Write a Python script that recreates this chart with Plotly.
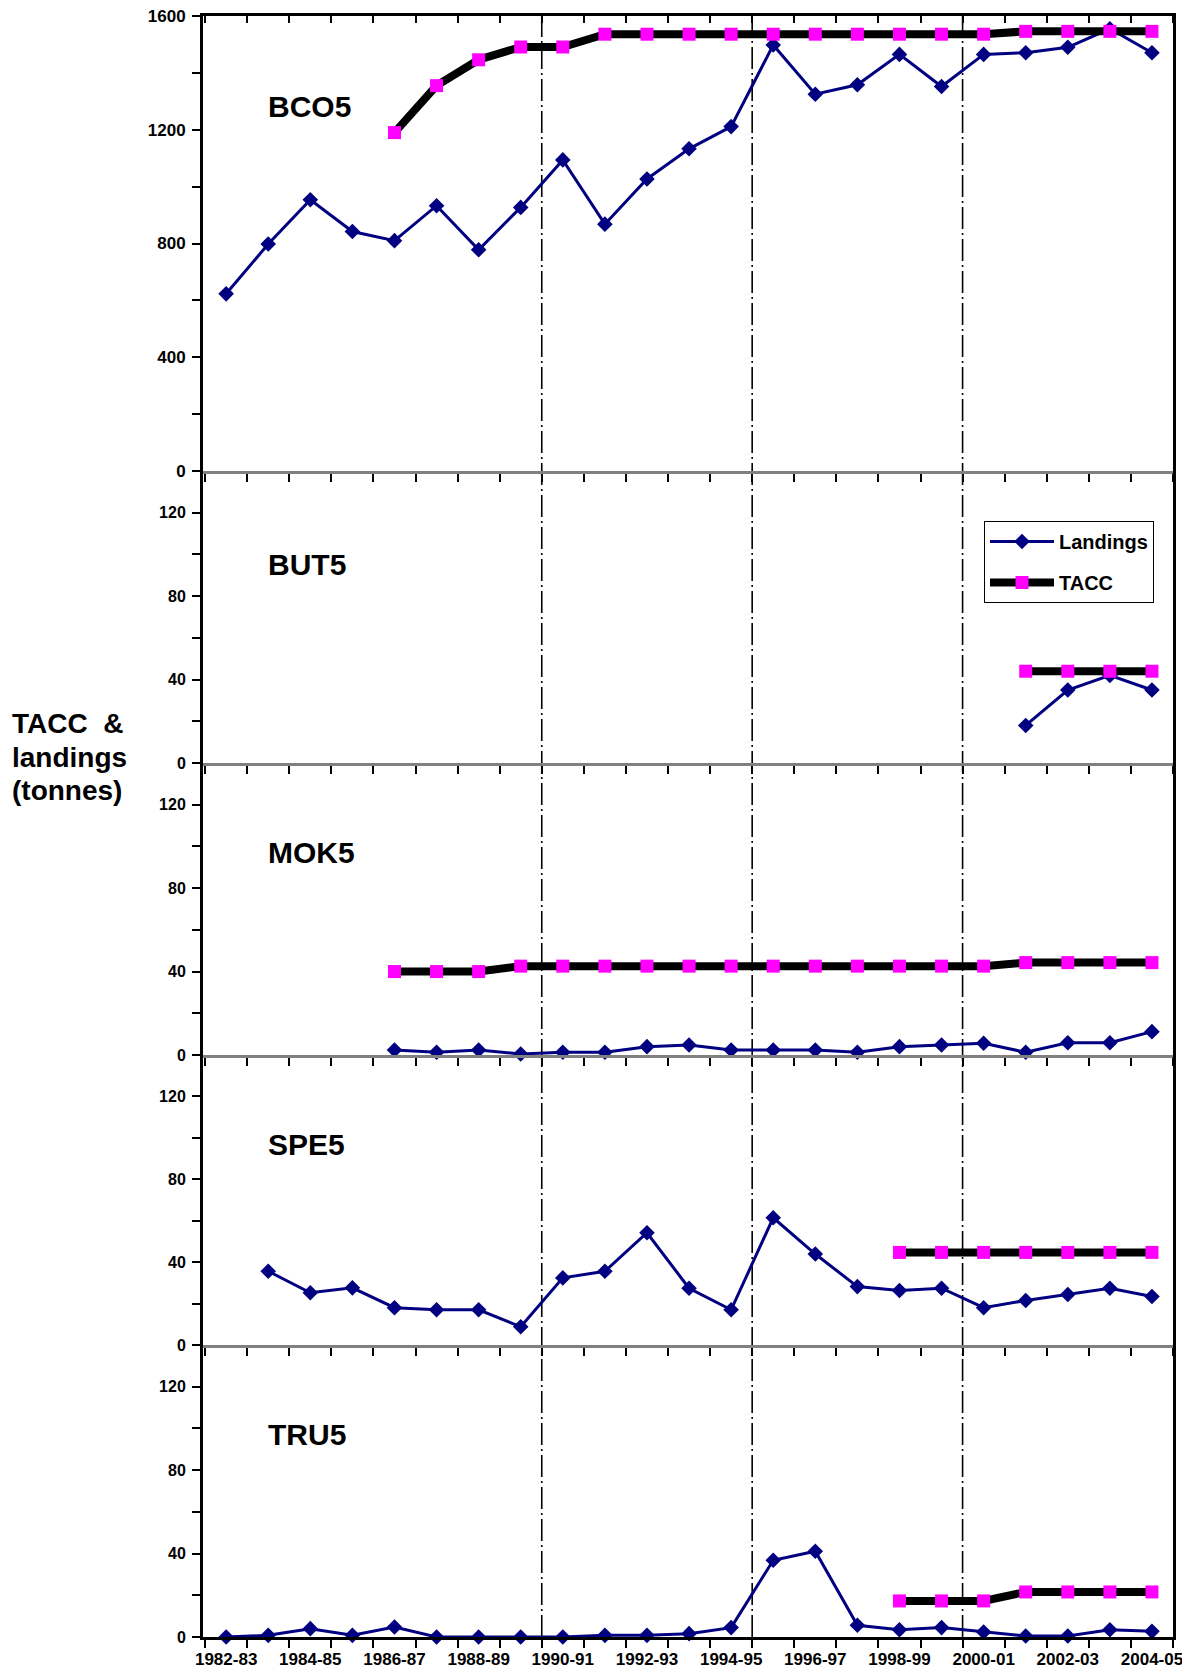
import plotly.graph_objects as go

seasons = ["1982-83", "1983-84", "1984-85", "1985-86", "1986-87", "1987-88", "1988-89",
           "1989-90", "1990-91", "1991-92", "1992-93", "1993-94", "1994-95", "1995-96",
           "1996-97", "1997-98", "1998-99", "1999-00", "2000-01", "2001-02", "2002-03",
           "2003-04", "2004-05"]

bco5_landings = [623, 798, 954, 842, 810, 933, 778, 927, 1094, 868, 1027, 1133, 1211, 1498,
                 1325, 1358, 1465, 1352, 1465, 1471, 1490, 1555, 1471]
bco5_tacc = [None] * 4 + [1190, 1355, 1446, 1491, 1491] + [1536] * 10 + [1546] * 4

but5_landings = [None] * 19 + [18, 35, 42, 35]
but5_tacc = [None] * 19 + [44, 44, 44, 44]

mok5_landings = [None] * 4 + [2.4, 1.3, 2.4, 0.5, 1.3, 1.3, 4, 4.8, 2.4, 2.4, 2.4, 1.3, 4, 4.8,
                              5.6, 1.3, 5.9, 5.9, 11.2]
mok5_tacc = [None] * 4 + [40, 40, 40] + [42.6] * 12 + [44.3] * 4

spe5_landings = [None, 35.6, 25.2, 27.6, 18, 17, 17, 8.8, 32.4, 35.6, 54.2, 27.4, 17, 61.4,
                 43.9, 28.2, 26.3, 27.4, 18, 21.5, 24.4, 27.4, 23.4]
spe5_tacc = [None] * 16 + [44.7] * 7

tru5_landings = [0, 0.8, 4, 0.8, 4.8, 0, 0, 0, 0, 0.8, 0.8, 1.6, 4.5, 36.8, 41.1, 5.6, 3.5,
                 4.5, 2.4, 0.5, 0.5, 3.5, 2.7]
tru5_tacc = [None] * 16 + [17.3, 17.3, 17.3, 21.6, 21.6, 21.6, 21.6]

stocks = ["BCO5", "BUT5", "MOK5", "SPE5", "TRU5"]
landings = [bco5_landings, but5_landings, mok5_landings, spe5_landings, tru5_landings]
taccs = [bco5_tacc, but5_tacc, mok5_tacc, spe5_tacc, tru5_tacc]
y_max = [1600, 140, 140, 140, 140]
y_ticks = [[0, 400, 800, 1200, 1600], [0, 40, 80, 120], [0, 40, 80, 120], [0, 40, 80, 120],
           [0, 40, 80, 120]]
y_minor = [200, 20, 20, 20, 20]
label_y = [1281, 95, 97, 97, 97]
divider_positions = [7.5, 12.5, 17.5]
title_lines = ["TACC\u00a0\u00a0&amp;", "landings", "(tonnes)"]

# page body has an 8px margin: the figure itself starts 8px in from the window corner
OFF = 8
WIN_W, WIN_H = 1190, 1672
W, H = WIN_W - OFF, WIN_H - OFF
# plot area in window pixels
PX_L, PX_R, PX_T, PX_B = 203, 1173, 16, 1637
ML, MR, MT, MB = PX_L - OFF, WIN_W - PX_R, PX_T - OFF, WIN_H - PX_B
plot_w = PX_R - PX_L
plot_h = PX_B - PX_T


def px_x(xw):
    return (xw - PX_L) / plot_w


def px_y(yw):
    return (PX_B - yw) / plot_h


edges_px = [16, 471, 763, 1055, 1345, 1637]
domains = [[px_y(edges_px[i + 1]), px_y(edges_px[i])] for i in range(5)]
domains[-1][0] = 0.0
domains[0][1] = 1.0

x_idx = list(range(len(seasons)))
x_range = [-0.55, 22.5]
boundaries = [k - 0.5 for k in range(len(seasons) + 1)]

FONT = "Liberation Sans, Arial, sans-serif"
NAVY = "#000080"
MAGENTA = "#FF00FF"

fig = go.Figure()
for i in range(5):
    n = "" if i == 0 else str(i + 1)
    fig.add_trace(go.Scatter(
        x=x_idx, y=landings[i], xaxis="x" + n, yaxis="y" + n, mode="lines+markers",
        name="Landings", legendgroup="land", showlegend=(i == 0), cliponaxis=False,
        line=dict(color=NAVY, width=3),
        marker=dict(symbol="diamond", size=12, color=NAVY)))
    # first panel's TACC sits on the top (overlaying) x axis, which has the same range
    fig.add_trace(go.Scatter(
        x=x_idx, y=taccs[i], xaxis="x6" if i == 0 else "x" + n, yaxis="y" + n,
        mode="lines+markers",
        name="TACC", legendgroup="tacc", showlegend=(i == 0), cliponaxis=False,
        line=dict(color="black", width=8),
        marker=dict(symbol="square", size=13, color=MAGENTA)))

layout = dict(
    width=W, height=H,
    margin=dict(l=ML, r=MR, t=MT, b=MB, autoexpand=False),
    paper_bgcolor="white", plot_bgcolor="white",
    font=dict(family=FONT, color="black"),
    showlegend=True,
    legend=dict(x=px_x(984), y=px_y(521),
                xanchor="left", yanchor="top",
                bordercolor="black", borderwidth=1, bgcolor="white",
                font=dict(family=FONT, size=20, weight="bold"),
                itemwidth=64, tracegroupgap=12),
)

for i in range(5):
    n = "" if i == 0 else str(i + 1)
    layout["xaxis" + n] = dict(
        domain=[0, 1], range=x_range, anchor="y" + n, automargin=False,
        showline=True, linecolor="black" if i == 4 else "#808080", linewidth=3,
        ticks="", tickmode="array", tickvals=x_idx[::2], ticktext=seasons[::2],
        showticklabels=(i == 4), ticklabelstandoff=5, ticklabeloverflow="allow",
        tickfont=dict(family=FONT, size=17, weight="bold"),
        minor=dict(tickmode="array", tickvals=boundaries, ticks="outside", ticklen=8,
                   tickwidth=2, tickcolor="black", showgrid=False),
        showgrid=False, zeroline=False, fixedrange=True)
    layout["yaxis" + n] = dict(
        domain=domains[i], range=[0, y_max[i]], anchor="x" + n, automargin=False,
        showline=True, linecolor="black", linewidth=3, mirror=True,
        ticks="outside", ticklen=8, tickwidth=2, tickcolor="black",
        tickmode="array", tickvals=y_ticks[i], ticklabelstandoff=3,
        ticklabeloverflow="allow",
        tickfont=dict(family=FONT, size=17 if i == 0 else 16, weight="bold"),
        minor=dict(dtick=y_minor[i], ticks="outside", ticklen=8, tickwidth=2,
                   tickcolor="black", showgrid=False),
        showgrid=False, zeroline=False, fixedrange=True)

# top border with inward ticks on first panel
layout["xaxis6"] = dict(
    overlaying="x", anchor="y", side="top", range=x_range, domain=[0, 1], automargin=False,
    showline=True, linecolor="black", linewidth=3, ticks="", showticklabels=False,
    minor=dict(tickmode="array", tickvals=boundaries, ticks="inside", ticklen=7,
               tickwidth=2, tickcolor="black", showgrid=False),
    showgrid=False, zeroline=False, fixedrange=True)

shapes = []
for xv in divider_positions:
    shapes.append(dict(type="line", xref="x5", yref="paper", x0=xv, x1=xv, y0=0, y1=1,
                       layer="below", line=dict(color="black", width=1.6,
                                                dash="22px,4px,2px,4px")))
layout["shapes"] = shapes

annotations = []
for i in range(5):
    n = "" if i == 0 else str(i + 1)
    annotations.append(dict(
        text=stocks[i], xref="paper", yref="y" + n, x=px_x(266),
        y=label_y[i], xanchor="left", yanchor="middle", showarrow=False,
        font=dict(family=FONT, size=30, weight="bold", color="black")))
for line_text, yw in zip(title_lines, [723, 757, 790]):
    annotations.append(dict(
        text=line_text, xref="paper", yref="paper",
        x=px_x(10), y=px_y(yw), xanchor="left", yanchor="middle", align="left",
        showarrow=False, font=dict(family=FONT, size=28, weight="bold", color="black")))
layout["annotations"] = annotations

fig.update_layout(**layout)
fig.write_html("out.html")
